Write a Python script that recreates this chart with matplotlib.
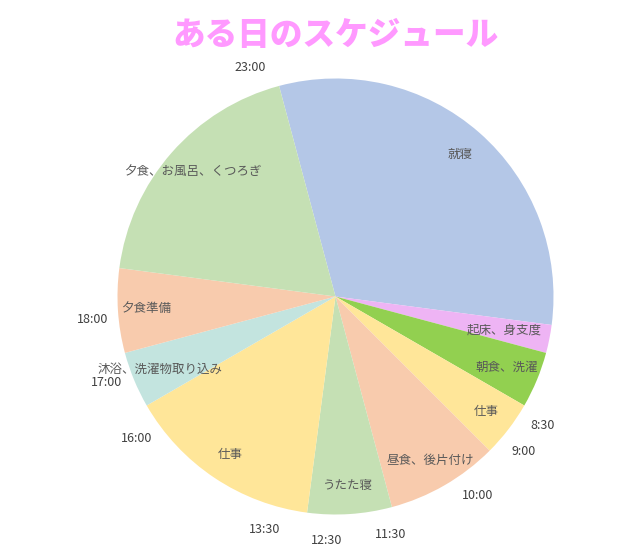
import numpy as np
import matplotlib.pyplot as plt

plt.rcParams['font.family'] = ['Noto Sans CJK JP', 'DejaVu Sans']

# ----------------------------
# Data (hours, starting at 23:00 and going clockwise)
# ----------------------------
activities = ["就寝", "起床、身支度", "朝食、洗濯", "仕事", "昼食、後片付け",
              "うたた寝", "仕事", "沐浴、洗濯物取り込み", "夕食準備",
              "夕食、お風呂、くつろぎ"]
hours = [7.5, 0.5, 1.0, 1.0, 2.0, 1.5, 3.5, 1.0, 1.5, 4.5]
colors = ["#B4C7E7", "#EEB4F4", "#92D050", "#FFE699", "#F8CBAD",
          "#C5E0B4", "#FFE699", "#C3E4DF", "#F8CBAD", "#C5E0B4"]

time_labels = ["23:00", "8:30", "9:00", "10:00", "11:30",
               "12:30", "13:30", "16:00", "17:00", "18:00"]

# ----------------------------
# Figure, pie centre at (335.5, 296.5) px, radius 218 px
# ----------------------------
W, H = 640, 552
cx, cy, R = 335.5, 296.5, 218.0

fig = plt.figure(figsize=(W / 100, H / 100), dpi=100)
ax = fig.add_axes([0, 0, 1, 1])
ax.axis('off')

# 24h clock: midnight at top, first slice starts at 23:00
start_hour = 23.0
wedges, texts = ax.pie(hours, labels=activities, colors=colors,
                       startangle=90 - (start_hour - 24) * 15,
                       counterclock=False, radius=1.0,
                       labeldistance=0.87,
                       wedgeprops=dict(linewidth=0),
                       textprops=dict(fontsize=9, color="#595959"))
for t in texts:
    t.set_horizontalalignment('center')
    t.set_verticalalignment('center')

# the narrow wake-up slice: pull its label in so it fits, like excel does
x, y = texts[1].get_position()
texts[1].set_position((x * 0.79 / 0.87, y * 0.79 / 0.87))
x, y = texts[2].get_position()
texts[2].set_position((x * 0.85 / 0.87, y * 0.85 / 0.87))

ax.set_xlim(-cx / R, (W - cx) / R)
ax.set_ylim(-(H - cy) / R, cy / R)
ax.set_aspect('equal')

# time labels round the outside
for lab in time_labels:
    hh, mm = lab.split(":")
    t = int(hh) + int(mm) / 60
    ang = np.radians(90 - (t * 15 - 5.5))
    ax.text(1.12 * np.cos(ang), 1.12 * np.sin(ang), lab,
            ha='center', va='center', fontsize=9, color="#404040")

# title
fig.text(cx / W, 1 - 35 / H, "ある日のスケジュール", ha='center', va='center',
         fontsize=23.5, fontweight='heavy', color="#FF99FF")

fig.savefig("out.png", dpi=100)
